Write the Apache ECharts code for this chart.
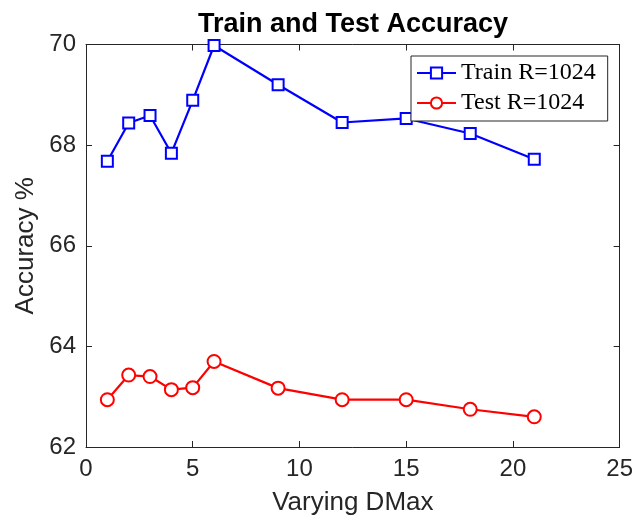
<!DOCTYPE html>
<html><head><meta charset="utf-8">
<script src="https://cdn.jsdelivr.net/npm/echarts@6/dist/echarts.min.js"></script>
<style>html,body{margin:0;padding:0;background:#fff}#c{width:636px;height:521px}</style>
</head><body><div id="c"></div>
<script>
const dmax = [1, 2, 3, 4, 5, 6, 9, 12, 15, 18, 21];
const trainAcc = [67.68, 68.44, 68.59, 67.84, 68.89, 69.98, 69.20, 68.45, 68.53, 68.23, 67.72];
const testAcc = [62.94, 63.43, 63.40, 63.14, 63.18, 63.70, 63.17, 62.94, 62.94, 62.75, 62.60];
const xTicks = [0, 5, 10, 15, 20, 25];
const yTicks = [62, 64, 66, 68, 70];

const chart = echarts.init(document.getElementById('c'));
const axCol = '#262626';
const sans = 'Liberation Sans, Arial, Helvetica, sans-serif';
const tickFont = {color: axCol, fontSize: 24, fontFamily: sans};
const hiddenAx = {show: true, axisLine:{show:true, onZero:false, lineStyle:{color:axCol, width:1}}, axisTick:{show:true, inside:true, length:6, lineStyle:{color:axCol}}, axisLabel:{show:false}, splitLine:{show:false}};
chart.setOption({
  animation: false,
  backgroundColor: '#fff',
  title: {text: 'Train and Test Accuracy', left: 348, textAlign: 'center', top: 6,
    textStyle: {fontSize: 27, fontWeight: 'bold', color: '#000', fontFamily: sans}},
  grid: {left: 86, right: 14, top: 44.5, bottom: 68.5, containLabel: false},
  legend: {
    orient: 'vertical', left: 411, top: 56,
    backgroundColor: '#fff', borderColor: axCol, borderWidth: 1, borderRadius: 0,
    padding: [5, 12, 6, 5], itemGap: 6, itemWidth: 39, itemHeight: 14,
    textStyle: {fontSize: 24, lineHeight: 24, color: '#000', fontFamily: 'Liberation Serif, Times New Roman, serif'},
    data: ['Train R=1024', 'Test R=1024']
  },
  xAxis: [
    {type: 'value', min: 0, max: 25, interval: 5, position: 'bottom',
      name: 'Varying DMax', nameLocation: 'middle', nameGap: 43,
      nameTextStyle: {fontSize: 26, color: axCol, fontFamily: sans},
      axisLine: {onZero: false, lineStyle: {color: axCol, width: 1}},
      axisTick: {inside: true, length: 6, lineStyle: {color: axCol}},
      axisLabel: Object.assign({margin: 10, formatter: v => xTicks.includes(v) ? String(v) : ''}, tickFont),
      splitLine: {show: false}},
    Object.assign({type: 'value', min: 0, max: 25, interval: 5, position: 'top'}, hiddenAx)
  ],
  yAxis: [
    {type: 'value', min: 62, max: 70, interval: 2, position: 'left',
      name: 'Accuracy %', nameLocation: 'middle', nameGap: 42,
      nameTextStyle: {fontSize: 26, color: axCol, fontFamily: sans},
      axisLine: {show: true, onZero: false, lineStyle: {color: axCol, width: 1}},
      axisTick: {show: true, inside: true, length: 6, lineStyle: {color: axCol}},
      axisLabel: Object.assign({margin: 10, formatter: v => yTicks.includes(v) ? String(v) : ''}, tickFont),
      splitLine: {show: false}},
    Object.assign({type: 'value', min: 62, max: 70, interval: 2, position: 'right'}, hiddenAx)
  ],
  series: [
    {name: 'Train R=1024', type: 'line', data: dmax.map((x, i) => [x, trainAcc[i]]),
      symbol: 'emptyRect', symbolSize: 11, showAllSymbol: true,
      lineStyle: {color: '#0000ff', width: 2.2}, itemStyle: {color: '#0000ff', borderWidth: 2.2}},
    {name: 'Test R=1024', type: 'line', data: dmax.map((x, i) => [x, testAcc[i]]),
      symbol: 'emptyCircle', symbolSize: 13, showAllSymbol: true,
      lineStyle: {color: '#ff0000', width: 2.2}, itemStyle: {color: '#ff0000', borderWidth: 2.2}}
  ]
});
</script></body></html>
